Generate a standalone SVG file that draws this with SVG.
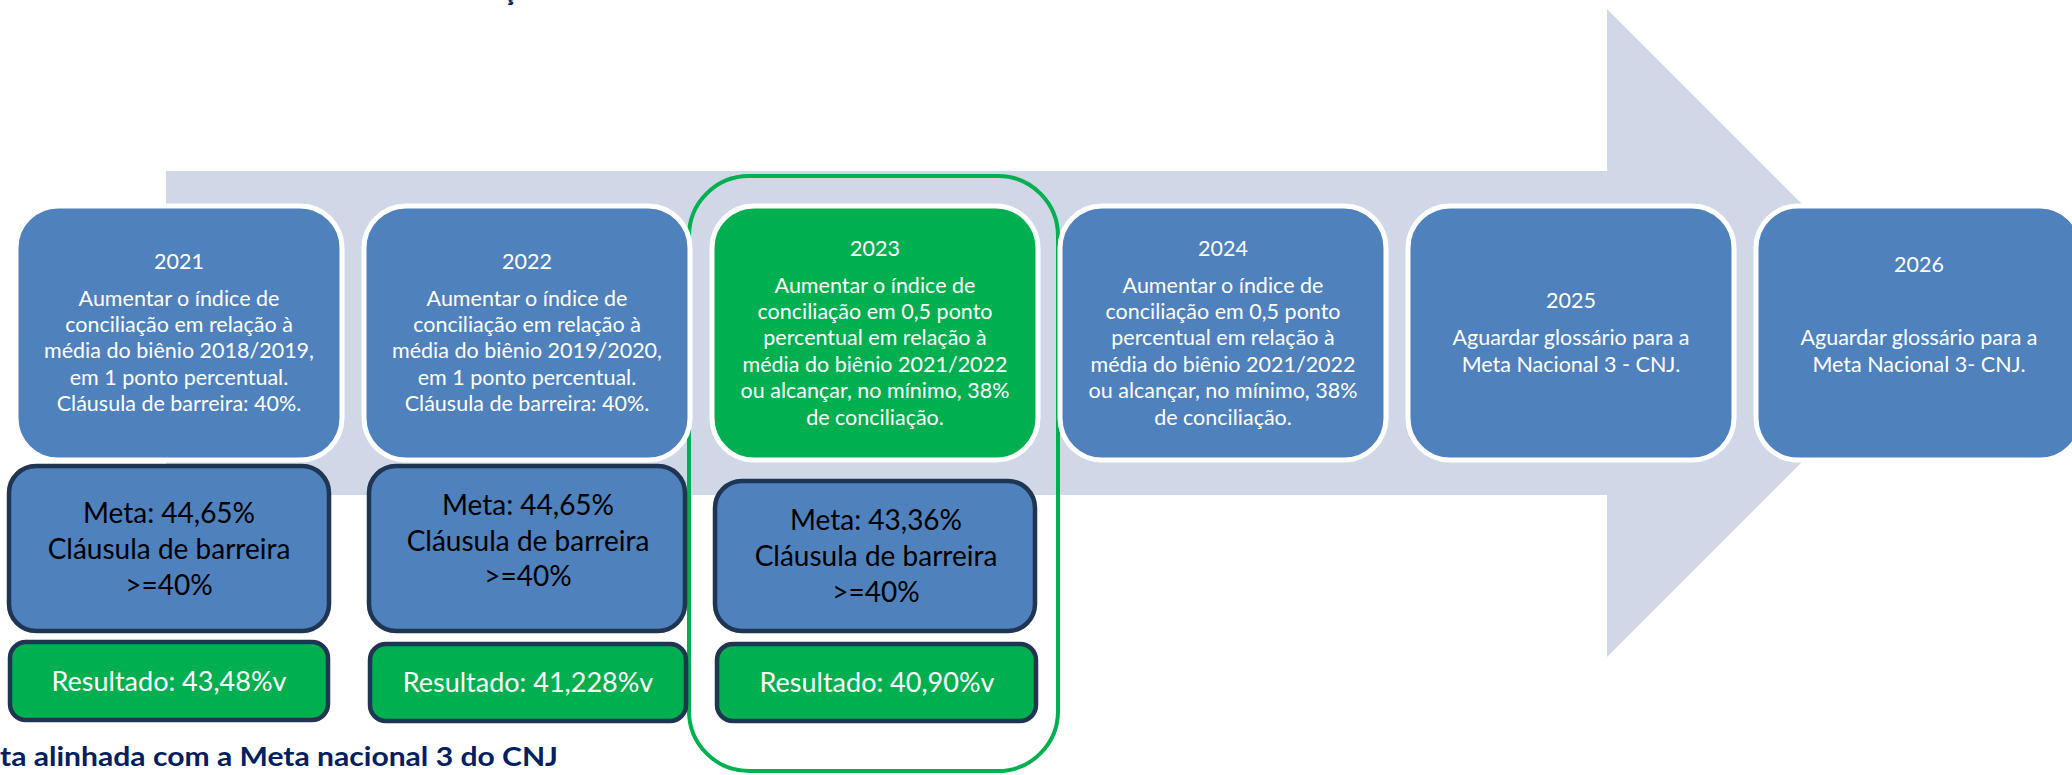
<svg xmlns="http://www.w3.org/2000/svg" width="2072" height="775" viewBox="0 0 2072 775">
<style>
.top{fill:#4f81bd;stroke:#ffffff;stroke-width:5}
.topg{fill:#00b050;stroke:#ffffff;stroke-width:5}
.meta{fill:#4f81bd;stroke:#1f3552;stroke-width:4.5}
.res{fill:#00b050;stroke:#1f3552;stroke-width:4.5}
.t{font-family:Lato,"Liberation Sans",sans-serif;font-size:21.5px;fill:#ffffff;text-anchor:middle}
.m{font-family:Lato,"Liberation Sans",sans-serif;font-size:28px;fill:#000000;text-anchor:middle}
.r{font-family:Lato,"Liberation Sans",sans-serif;font-size:27px;fill:#ffffff;text-anchor:middle}
.title{font-family:Lato,"Liberation Sans",sans-serif;font-size:27px;font-weight:bold;fill:#002060}
</style>
<rect width="2072" height="775" fill="#ffffff"/>
<g id="arrow">
<polygon points="166,171 1607,171 1607,9 1931,333 1607,657 1607,495 166,495" fill="#d0d8e8"/>
</g>
<g id="highlight-2023">
<rect x="689" y="176" width="369" height="595" rx="60" fill="none" stroke="#00b050" stroke-width="4"/>
</g>
<g id="y2021">
<rect class="top" x="16" y="206" width="326" height="254" rx="42"/>
<text class="t" x="179" y="269">2021</text>
<text class="t" x="179" y="306">Aumentar o índice de</text>
<text class="t" x="179" y="332">conciliação em relação à</text>
<text class="t" x="179" y="358">média do biênio 2018/2019,</text>
<text class="t" x="179" y="385">em 1 ponto percentual.</text>
<text class="t" x="179" y="411">Cláusula de barreira: 40%.</text>
</g>
<g id="y2022">
<rect class="top" x="364" y="206" width="326" height="254" rx="42"/>
<text class="t" x="527" y="269">2022</text>
<text class="t" x="527" y="306">Aumentar o índice de</text>
<text class="t" x="527" y="332">conciliação em relação à</text>
<text class="t" x="527" y="358">média do biênio 2019/2020,</text>
<text class="t" x="527" y="385">em 1 ponto percentual.</text>
<text class="t" x="527" y="411">Cláusula de barreira: 40%.</text>
</g>
<g id="y2023">
<rect class="topg" x="712" y="206" width="326" height="254" rx="42"/>
<text class="t" x="875" y="256">2023</text>
<text class="t" x="875" y="293">Aumentar o índice de</text>
<text class="t" x="875" y="319">conciliação em 0,5 ponto</text>
<text class="t" x="875" y="345">percentual em relação à</text>
<text class="t" x="875" y="372">média do biênio 2021/2022</text>
<text class="t" x="875" y="398">ou alcançar, no mínimo, 38%</text>
<text class="t" x="875" y="425">de conciliação.</text>
</g>
<g id="y2024">
<rect class="top" x="1060" y="206" width="326" height="254" rx="42"/>
<text class="t" x="1223" y="256">2024</text>
<text class="t" x="1223" y="293">Aumentar o índice de</text>
<text class="t" x="1223" y="319">conciliação em 0,5 ponto</text>
<text class="t" x="1223" y="345">percentual em relação à</text>
<text class="t" x="1223" y="372">média do biênio 2021/2022</text>
<text class="t" x="1223" y="398">ou alcançar, no mínimo, 38%</text>
<text class="t" x="1223" y="425">de conciliação.</text>
</g>
<g id="y2025">
<rect class="top" x="1408" y="206" width="326" height="254" rx="42"/>
<text class="t" x="1571" y="308">2025</text>
<text class="t" x="1571" y="345">Aguardar glossário para a</text>
<text class="t" x="1571" y="372">Meta Nacional 3 - CNJ.</text>
</g>
<g id="y2026">
<rect class="top" x="1756" y="206" width="326" height="254" rx="42"/>
<text class="t" x="1919" y="272">2026</text>
<text class="t" x="1919" y="345">Aguardar glossário para a</text>
<text class="t" x="1919" y="372">Meta Nacional 3- CNJ.</text>
</g>
<g id="meta2021">
<rect class="meta" x="9" y="466" width="320" height="165" rx="27"/>
<text class="m" x="169" y="523">Meta: 44,65%</text>
<text class="m" x="169" y="559">Cláusula de barreira</text>
<text class="m" x="169" y="595">&gt;=40%</text>
</g>
<g id="meta2022">
<rect class="meta" x="369" y="466" width="316" height="165" rx="27"/>
<text class="m" x="528" y="515">Meta: 44,65%</text>
<text class="m" x="528" y="551">Cláusula de barreira</text>
<text class="m" x="528" y="586">&gt;=40%</text>
</g>
<g id="meta2023">
<rect class="meta" x="715" y="481" width="320" height="150" rx="27"/>
<text class="m" x="876" y="530">Meta: 43,36%</text>
<text class="m" x="876" y="566">Cláusula de barreira</text>
<text class="m" x="876" y="602">&gt;=40%</text>
</g>
<g id="res2021">
<rect class="res" x="10" y="642" width="318" height="78" rx="16"/>
<text class="r" x="169" y="691">Resultado: 43,48%v</text>
</g>
<g id="res2022">
<rect class="res" x="370" y="644" width="316" height="77" rx="16"/>
<text class="r" x="528" y="692">Resultado: 41,228%v</text>
</g>
<g id="res2023">
<rect class="res" x="717" y="644" width="319" height="77" rx="16"/>
<text class="r" x="877" y="692">Resultado: 40,90%v</text>
</g>
<g id="labels">
<text class="title" x="0" y="766" textLength="558" lengthAdjust="spacingAndGlyphs">ta alinhada com a Meta nacional 3 do CNJ</text>
<text class="title" x="503" y="1">ç</text>
</g>
<g id="connectors"></g>
</svg>
